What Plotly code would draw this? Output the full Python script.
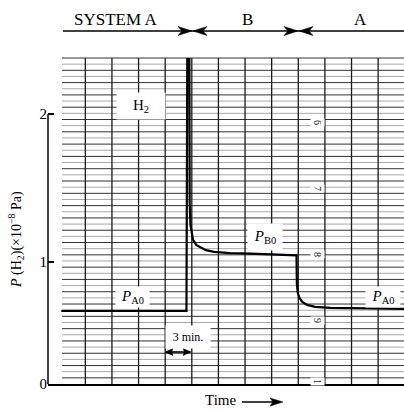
import plotly.graph_objects as go

# ---- data (time in minutes, pressure in 1e-8 Pa) ----
time_min = [0.3, 3.0, 6.0, 9.0, 12.0, 14.40, 14.50, 14.72, 14.76, 14.85, 15.14, 15.5, 15.92,
            16.6, 17.5, 19.3, 21.6, 23.8, 26.6, 26.80, 26.84, 26.95, 27.15, 27.45, 28.0,
            28.9, 30.6, 34.0, 38.92]
pressure = [0.670, 0.670, 0.669, 0.669, 0.670, 0.670, 2.6, 2.6, 1.40, 1.25, 1.149, 1.115, 1.101,
            1.080, 1.068, 1.060, 1.056, 1.050, 1.045, 1.045, 0.850, 0.790, 0.755, 0.730, 0.710,
            0.697, 0.690, 0.686, 0.683]
y_tick_vals = [0.1757, 1, 2]
y_tick_text = ["0", "1", "2"]
grid_minutes = [3, 6, 9, 12, 15, 18, 21, 24, 27, 30, 33, 36]
paper_numbers = ["6", "7", "8", "9", "1"]

W, H = 404, 410
L, R, T, B = 48, 0, 58, 26
PW, PH = W - L - R, H - T - B
X_RANGE = [-1.206, 38.915]
Y_RANGE = [0.1757, 2.378]

def px(x):  # pixel -> paper x
    return (x - L) / PW

def py(y):  # pixel -> paper y
    return (H - B - y) / PH

SERIF = "Liberation Serif, Times New Roman, serif"

fig = go.Figure()
fig.add_trace(go.Scatter(x=time_min, y=pressure, mode="lines",
                         line=dict(color="black", width=2.2), showlegend=False,
                         hoverinfo="skip"))

shapes = []
# horizontal chart-paper lines
n_h = 53
for k in range(n_h):
    yy = 1 - k / n_h
    shapes.append(dict(type="line", xref="paper", yref="paper", x0=px(62), x1=1,
                       y0=yy, y1=yy, layer="below",
                       line=dict(color="#333333" if k % 2 == 0 else "#a8a8a8", width=1)))
# vertical chart-paper lines
for g in grid_minutes:
    shapes.append(dict(type="line", xref="x", yref="paper", x0=g, x1=g, y0=0, y1=1,
                       layer="below", line=dict(color="#1a1a1a", width=1.3)))
# left axis line (0 to 2)
shapes.append(dict(type="line", xref="paper", yref="y", x0=0, x1=0,
                   y0=y_tick_vals[0], y1=y_tick_vals[2], line=dict(color="black", width=1.5)))


def hline(x0, x1, y, w=1.4):
    shapes.append(dict(type="line", xref="paper", yref="paper", x0=px(x0), x1=px(x1),
                       y0=py(y), y1=py(y), line=dict(color="black", width=w)))


def head(tipx, y, direction, length=14, half=4.5, notch=4):
    d = direction  # +1 right, -1 left
    pts = [(tipx, y), (tipx - d * length, y - half), (tipx - d * (length - notch), y),
           (tipx - d * length, y + half)]
    path = "M " + " L ".join(f"{px(a):.5f},{py(b):.5f}" for a, b in pts) + " Z"
    shapes.append(dict(type="path", xref="paper", yref="paper", path=path,
                       fillcolor="black", line=dict(color="black", width=0.5)))


# top system arrows
hline(63, 404, 31)
head(192, 31, +1)
head(193, 31, -1)
head(298, 31, +1)
head(299, 31, -1)
# 3 min double arrow
hline(166, 190, 352, 1.6)
head(165, 352, -1, length=8, half=3.5, notch=1.5)
head(191, 352, +1, length=8, half=3.5, notch=1.5)
# time arrow
hline(242, 276, 402, 1.6)
head(283, 402, +1, length=13, half=4, notch=3)

ann = []
for txt, cx, sz in [("SYSTEM A", 115, 17), ("B", 247, 17), ("A", 360, 17)]:
    ann.append(dict(xref="paper", yref="paper", x=px(cx), y=py(19), text=txt,
                    xanchor="center", yanchor="middle",
                    showarrow=False, font=dict(family=SERIF, size=sz, color="black")))


# labels on chart with white boxes
def boxed(text, cx, cy, w, h, size):
    return dict(xref="paper", yref="paper", x=px(cx), y=py(cy), text=text, showarrow=False,
                xanchor="center", yanchor="middle",
                bgcolor="white", width=w, height=h, borderpad=0,
                font=dict(family=SERIF, size=size, color="black"))


ann.append(boxed("H<sub>2</sub>", 141, 106, 48, 26, 15))
ann.append(boxed("<i>P</i><sub>B0</sub>", 265, 237, 34, 26, 15))
ann.append(boxed("<i>P</i><sub>A0</sub>", 132, 297, 33, 20, 15))
ann.append(boxed("<i>P</i><sub>A0</sub>", 383, 297, 34, 20, 15))
ann.append(boxed("3 min.", 188, 337, 44, 22, 12))

# small chart-paper numbers
for t, yy in zip(paper_numbers, [122, 188, 254, 320, 381]):
    ann.append(dict(xref="paper", yref="paper", x=px(318), y=py(yy), text=t, textangle=90,
                    xanchor="center", yanchor="middle",
                    showarrow=False, bgcolor="white",
                    font=dict(family=SERIF, size=10, color="#222")))

# axis titles
ann.append(dict(xref="paper", yref="paper", x=px(16), y=py(240), textangle=-90,
                xanchor="center", yanchor="middle",
                text="<i>P</i> (H<sub>2</sub>)(×10<sup>−8</sup> Pa)", showarrow=False,
                font=dict(family=SERIF, size=14, color="black")))
ann.append(dict(xref="paper", yref="paper", x=px(220), y=py(400), text="Time",
                xanchor="center", yanchor="middle",
                showarrow=False, font=dict(family=SERIF, size=15, color="black")))

fig.update_layout(
    width=W, height=H, margin=dict(l=L, r=R, t=T, b=B),
    paper_bgcolor="white", plot_bgcolor="white",
    shapes=shapes, annotations=ann, showlegend=False,
    xaxis=dict(range=X_RANGE, showgrid=False, zeroline=False, showticklabels=False,
               ticks="", showline=True, linecolor="black", linewidth=1.5, fixedrange=True),
    yaxis=dict(range=Y_RANGE, tickvals=y_tick_vals, ticktext=y_tick_text, ticks="inside",
               ticklen=6, tickwidth=1.5, tickcolor="black", showgrid=False, zeroline=False,
               showline=False, tickfont=dict(family=SERIF, size=15, color="black"),
               fixedrange=True),
)

fig.write_html("out.html", config={"displayModeBar": False})
